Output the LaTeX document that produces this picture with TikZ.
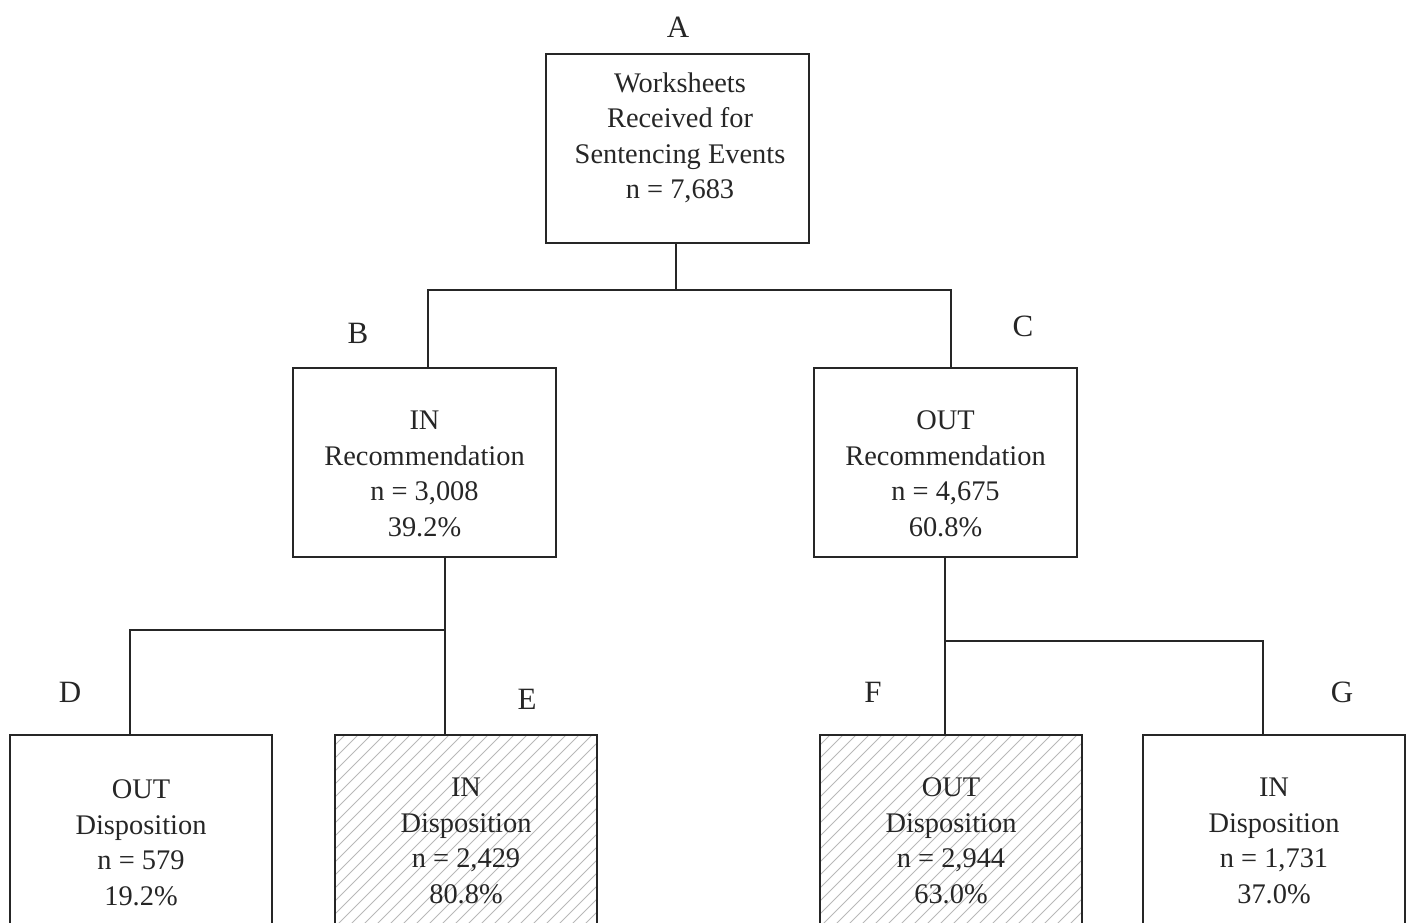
\documentclass[tikz,border=0pt]{standalone}
\usepackage{fontspec}
\setmainfont{Liberation Serif}
\begin{document}
\begin{tikzpicture}[x=1pt,y=-1pt,
  box/.style={draw=black!85, line width=2.6pt, minimum width=263pt, inner sep=0pt},
  conn/.style={draw=black!85, line width=2.2pt},
  txt/.style={align=center, font=\fontsize{28.4}{35.5}\selectfont, text=black!85},
  lbl/.style={font=\fontsize{31}{36}\selectfont, text=black!85},
  hatch/.style={draw=black!28, line width=1pt}]
\useasboundingbox (0,0) rectangle (1408,923);
\clip (0,0) rectangle (1408,923);
% hatching of E and F
\begin{scope}
\clip (335,735) rectangle (597,960);
\foreach \i in {-260,-247,...,290} \draw[hatch] (335+\i,940) -- ++(260,-260);
\end{scope}
\begin{scope}
\clip (820,735) rectangle (1082,960);
\foreach \i in {-260,-247,...,290} \draw[hatch] (820+\i,940) -- ++(260,-260);
\end{scope}
% boxes
\node[box, minimum height=189pt] (A) at (677.5,148.5) {};
\node[box, minimum height=189pt] (B) at (424.5,462.5) {};
\node[box, minimum height=189pt] (C) at (945.5,462.5) {};
\node[box, minimum width=262pt, minimum height=240pt] (D) at (141,855) {};
\node[box, minimum width=262pt, minimum height=240pt] (E) at (466,855) {};
\node[box, minimum width=262pt, minimum height=240pt] (F) at (951,855) {};
\node[box, minimum width=262pt, minimum height=240pt] (G) at (1274,855) {};
% texts
\node[txt] (tA) at (680,138) {Worksheets\\Received for\\Sentencing Events\\n = 7,683};
\node[txt] (tB) at (424.5,474) {IN\\Recommendation\\n = 3,008\\39.2\%};
\node[txt] (tC) at (945.5,474) {OUT\\Recommendation\\n = 4,675\\60.8\%};
\node[txt] (tD) at (141,843) {OUT\\Disposition\\n = 579\\19.2\%};
\node[txt] (tE) at (466,841) {IN\\Disposition\\n = 2,429\\80.8\%};
\node[txt] (tF) at (951,841) {OUT\\Disposition\\n = 2,944\\63.0\%};
\node[txt] (tG) at (1274,841) {IN\\Disposition\\n = 1,731\\37.0\%};
% letters
\node[lbl] (lA) at (678,27) {A};
\node[lbl] (lB) at (358,333) {B};
\node[lbl] (lC) at (1023,326) {C};
\node[lbl] (lD) at (70,692) {D};
\node[lbl] (lE) at (527,699) {E};
\node[lbl] (lF) at (873,692) {F};
\node[lbl] (lG) at (1342,692) {G};
% connectors
\coordinate (bA) at (676,290);
\coordinate (bB) at (445,630);
\coordinate (bC) at (945,641);
\draw[conn] (A.south -| bA) -- (bA);
\draw[conn] ([xshift=3.5pt]B.north) |- (bA);
\draw[conn] ([xshift=5.5pt]C.north) |- (bA);
\draw[conn] (B.south -| bB) -- (bB) -- (bB |- E.north);
\draw[conn] (bB) -| ([xshift=-11pt]D.north);
\draw[conn] (C.south -| bC) -- (bC) -- (bC |- F.north);
\draw[conn] (bC) -| ([xshift=-11pt]G.north);
\end{tikzpicture}
\end{document}
